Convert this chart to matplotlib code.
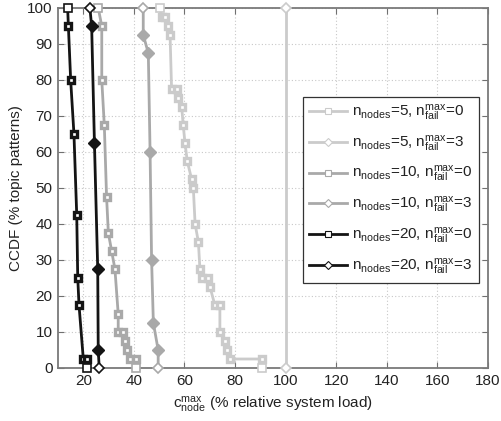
import matplotlib
matplotlib.use("Agg")
import matplotlib.pyplot as plt
from matplotlib.lines import Line2D

plt.rcParams['font.family'] = ['Liberation Sans', 'DejaVu Sans']
plt.rcParams['mathtext.fontset'] = 'custom'
plt.rcParams['mathtext.rm'] = 'Liberation Sans'
plt.rcParams['mathtext.it'] = 'Liberation Sans'
plt.rcParams['mathtext.bf'] = 'Liberation Sans:bold'

# ---- data ----
n5f0_x = [50.3, 51.0, 52.3, 53.6, 54.3, 54.9, 56.9, 57.6, 58.9, 59.5, 60.2, 61.1, 62.8, 63.5,
          64.2, 65.5, 66.1, 66.8, 69.4, 70.1, 72.0, 74.0, 74.0, 76.0, 76.7, 78.0, 90.5, 90.5]
n5f0_y = [100, 97.5, 97.5, 95, 92.5, 77.5, 77.5, 75, 72.5, 67.5, 62.5, 57.5, 52.5, 50,
          40, 35, 27.5, 25, 25, 22.5, 17.5, 17.5, 10, 7.5, 5, 2.5, 2.5, 0]

n5f3_x = [100, 100]
n5f3_y = [100, 0]

n10f0_x = [25.9, 27.3, 27.3, 28.3, 29.2, 29.9, 31.2, 32.5, 33.8, 33.8, 35.5, 36.3, 37.3, 38.6, 40.8, 40.8]
n10f0_y = [100, 95, 80, 67.5, 47.5, 37.5, 32.5, 27.5, 15, 10, 10, 7.5, 5, 2.5, 2.5, 0]

n10f3_x = [43.7, 43.7, 45.7, 46.4, 47.0, 47.7, 49.6, 49.6]
n10f3_y = [100, 92.5, 87.5, 60, 30, 12.5, 5, 0]

n20f0_x = [13.8, 14.1, 15.0, 16.3, 17.4, 17.8, 18.3, 20.0, 21.6, 21.6]
n20f0_y = [100, 95, 80, 65, 42.5, 25, 17.5, 2.5, 2.5, 0]

n20f3_x = [22.6, 23.3, 24.4, 25.7, 25.9, 26.3]
n20f3_y = [100, 95, 62.5, 27.5, 5, 0]

labels = [r'n$_{\mathregular{nodes}}$=5, n$_{\mathregular{fail}}^{\mathregular{max}}$=0',
          r'n$_{\mathregular{nodes}}$=5, n$_{\mathregular{fail}}^{\mathregular{max}}$=3',
          r'n$_{\mathregular{nodes}}$=10, n$_{\mathregular{fail}}^{\mathregular{max}}$=0',
          r'n$_{\mathregular{nodes}}$=10, n$_{\mathregular{fail}}^{\mathregular{max}}$=3',
          r'n$_{\mathregular{nodes}}$=20, n$_{\mathregular{fail}}^{\mathregular{max}}$=0',
          r'n$_{\mathregular{nodes}}$=20, n$_{\mathregular{fail}}^{\mathregular{max}}$=3']

xticks = [20, 40, 60, 80, 100, 120, 140, 160, 180]
yticks = [0, 10, 20, 30, 40, 50, 60, 70, 80, 90, 100]

C5 = '#cbcbcb'
C10 = '#a9a9a9'
C20 = '#141414'

series = [
    (n5f0_x, n5f0_y, C5, 's'),
    (n5f3_x, n5f3_y, C5, 'D'),
    (n10f0_x, n10f0_y, C10, 's'),
    (n10f3_x, n10f3_y, C10, 'D'),
    (n20f0_x, n20f0_y, C20, 's'),
    (n20f3_x, n20f3_y, C20, 'D'),
]

fig = plt.figure(figsize=(5.01, 4.21), dpi=100)
ax = fig.add_axes([0.1158, 0.1259, 0.974 - 0.1158, 0.981 - 0.1259])

handles = []
for (xs, ys, c, m), lab in zip(series, labels):
    ax.plot(xs, ys, color=c, lw=2.0, zorder=3, solid_joinstyle='miter')
    ends_x = [xs[0], xs[-1]]
    ends_y = [ys[0], ys[-1]]
    ms_end = 6.2 if m == 's' else 4.8
    ax.plot(ends_x, ends_y, linestyle='none', marker=m, ms=ms_end, mfc='white',
            mec=c, mew=1.2, zorder=5, clip_on=False)
    mid_x = xs[1:-1]
    mid_y = ys[1:-1]
    if m == 's':
        ax.plot(mid_x, mid_y, linestyle='none', marker='s', ms=4.6, mfc='white',
                mec=c, mew=2.4, zorder=4, clip_on=False)
    else:
        ax.plot(mid_x, mid_y, linestyle='none', marker='D', ms=5.8, mfc=c,
                mec=c, mew=1.0, zorder=4, clip_on=False)
    handles.append(Line2D([], [], color=c, lw=2.0, marker=m,
                          ms=5 if m == 's' else 4, mfc='white', mec=c, mew=0.8))

ax.set_xlim(10, 180)
ax.set_ylim(0, 100)
ax.set_xticks(xticks)
ax.set_yticks(yticks)
ax.grid(True, linestyle=(0, (1, 2)), color='#c8c8c8', lw=0.8)
ax.set_axisbelow(True)
ax.tick_params(direction='in', top=True, right=True, length=4, width=0.8,
               color='#707070', labelsize=11, labelcolor='#222222', pad=4)
for s in ax.spines.values():
    s.set_color('#7a7a7a')
    s.set_linewidth(1.3)

ax.set_xlabel(r'c$_{\mathregular{node}}^{\mathregular{max}}$ (% relative system load)',
              fontsize=11, color='#222222', labelpad=5)
ax.set_ylabel('CCDF (% topic patterns)', fontsize=11, color='#222222', labelpad=3)

leg = ax.legend(handles, labels, loc='upper right', bbox_to_anchor=(0.978, 0.753),
                borderaxespad=0, fontsize=11, frameon=True, fancybox=False,
                framealpha=1, edgecolor='#333333', handlelength=2.5,
                labelspacing=0.7, borderpad=0.4, handletextpad=0.3)
leg.get_frame().set_linewidth(0.9)
for t in leg.get_texts():
    t.set_color('#222222')

fig.savefig('out.png', dpi=100)
